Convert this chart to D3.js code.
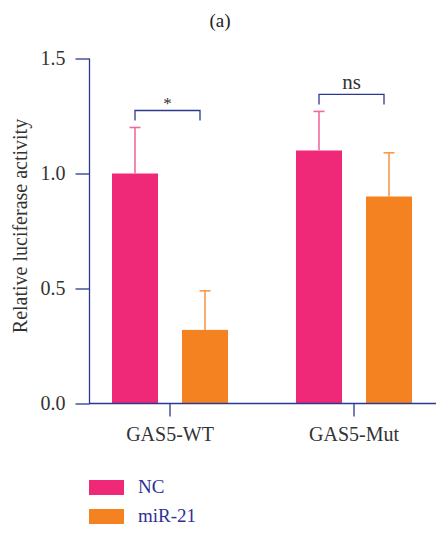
<!DOCTYPE html>
<html><head><meta charset="utf-8">
<script src="https://cdn.jsdelivr.net/npm/d3@7"></script>
<style>body{margin:0;background:#fff}svg{display:block}svg text{font-family:"Liberation Serif","DejaVu Serif",serif !important}</style>
</head><body>
<script>
const groups = ["GAS5-WT", "GAS5-Mut"];
const series = ["NC", "miR-21"];
const means = { "NC": [1.0, 1.10], "miR-21": [0.32, 0.90] };
const errors = { "NC": [0.20, 0.17], "miR-21": [0.17, 0.19] };
const yTicks = [0, 0.5, 1.0, 1.5];
const sigLabels = ["*", "ns"];
const colors = { "NC": "#F02878", "miR-21": "#F58220" };
const errColors = { "NC": "#F06A9E", "miR-21": "#F79A4A" };
const axisColor = "#2B3A8F";
const FONT = '"Liberation Serif","DejaVu Serif",serif';

const W = 437, H = 535;
const svg = d3.select("body").append("svg").attr("width", W).attr("height", H);

const y = d3.scaleLinear().domain([0, 1.5]).range([403.5, 58.5]);
const x0 = d3.scaleBand().domain(groups).range([78, 446]);
const x1 = d3.scaleBand().domain(series).range([34, 150]).paddingInner(24/70).paddingOuter(0);

// title
svg.append("text").attr("x", 220).attr("y", 27).attr("text-anchor", "middle")
  .attr("font-size", 19).attr("fill", "#222").style("font-family", FONT).text("(a)");

// y axis
const yAxis = svg.append("g").attr("transform", "translate(89.5,0)")
  .call(d3.axisLeft(y).tickValues(yTicks).tickFormat(d3.format(".1f")).tickSize(14).tickPadding(10));
yAxis.attr("font-family", FONT);
yAxis.select(".domain").attr("stroke", axisColor).attr("stroke-width", 1.3).attr("d", `M0,${y(1.5)}V${y(0)}`);
yAxis.selectAll(".tick line").attr("stroke", axisColor).attr("stroke-width", 1.3);
yAxis.selectAll(".tick text").attr("font-size", 20).attr("fill", "#333").style("font-family", FONT);

// y label
svg.append("text").attr("transform", "translate(27,226) rotate(-90)").attr("text-anchor", "middle")
  .attr("font-size", 20).attr("fill", "#333").style("font-family", FONT).text("Relative luciferase activity");

// bars
series.forEach(s => {
  groups.forEach((g, i) => {
    const bx = x0(g) + x1(s);
    svg.append("rect").attr("x", bx).attr("y", y(means[s][i]))
      .attr("width", x1.bandwidth()).attr("height", y(0) - y(means[s][i]))
      .attr("fill", colors[s]);
    const cx = bx + x1.bandwidth() / 2;
    const top = y(means[s][i] + errors[s][i]);
    svg.append("line").attr("x1", cx).attr("x2", cx).attr("y1", y(means[s][i])).attr("y2", top)
      .attr("stroke", errColors[s]).attr("stroke-width", 1.6);
    svg.append("line").attr("x1", cx - 5.5).attr("x2", cx + 5.5).attr("y1", top).attr("y2", top)
      .attr("stroke", errColors[s]).attr("stroke-width", 1.6);
  });
});

// x axis
const xAxis = svg.append("g").attr("transform", `translate(0,${y(0)})`)
  .call(d3.axisBottom(x0).tickSize(13).tickPadding(10));
xAxis.attr("font-family", FONT);
xAxis.select(".domain").attr("stroke", axisColor).attr("stroke-width", 1.3).attr("d", "M89,0H436");
xAxis.selectAll(".tick line").attr("stroke", axisColor).attr("stroke-width", 1.3);
xAxis.selectAll(".tick text").attr("font-size", 20).attr("fill", "#333").style("font-family", FONT);

// significance brackets
groups.forEach((g, i) => {
  const xa = x0(g) + x1("NC") + x1.bandwidth() / 2;
  const xb = x0(g) + x1("miR-21") + x1.bandwidth() / 2 - 5;
  const top = Math.max(means.NC[i] + errors.NC[i], means["miR-21"][i] + errors["miR-21"][i]);
  const by = y(top) - 17;
  svg.append("path").attr("d", `M${xa},${by + 10}V${by}H${xb}V${by + 10}`)
    .attr("fill", "none").attr("stroke", axisColor).attr("stroke-width", 1.3);
  const star = sigLabels[i] === "*";
  svg.append("text").attr("x", (xa + xb) / 2).attr("y", star ? by - 2 : by - 5)
    .attr("text-anchor", "middle").attr("font-size", star ? 17 : 21)
    .attr("fill", "#333").style("font-family", FONT).text(sigLabels[i]);
});

// legend
series.forEach((s, i) => {
  const ly = 480 + i * 29;
  svg.append("rect").attr("x", 89).attr("y", ly).attr("width", 35).attr("height", 15).attr("fill", colors[s]);
  svg.append("text").attr("x", 138).attr("y", ly + 13).attr("font-size", 19).attr("fill", "#2E3192")
    .style("font-family", FONT).text(s);
});
</script>
</body></html>
